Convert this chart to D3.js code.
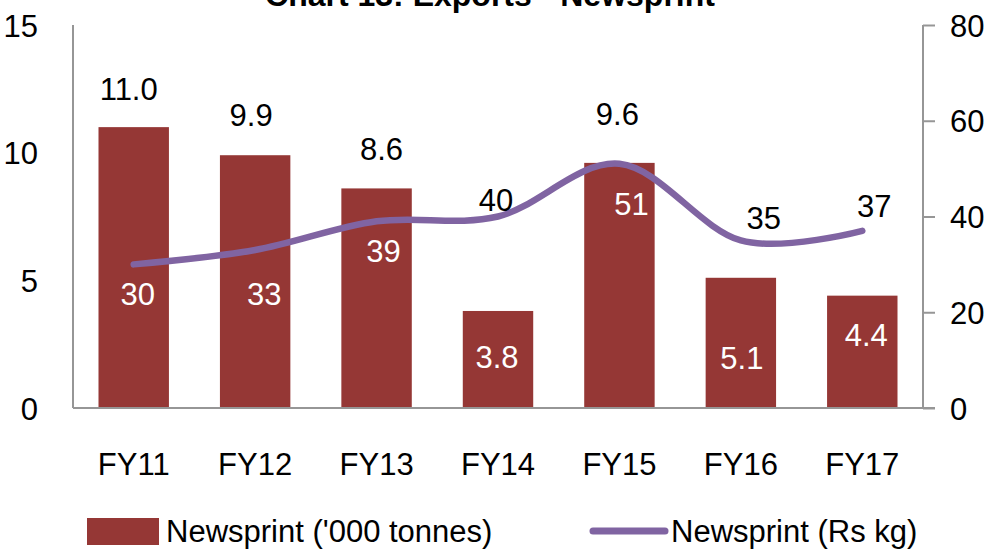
<!DOCTYPE html>
<html>
<head>
<meta charset="utf-8">
<script src="https://cdn.jsdelivr.net/npm/d3@7"></script>
<style>
  body { margin: 0; background: #fff; }
  svg text { font-family: "Liberation Sans", Arial, sans-serif; }
</style>
</head>
<body>
<div class="chart"></div>
<script>
// chart data
var years = ['FY11', 'FY12', 'FY13', 'FY14', 'FY15', 'FY16', 'FY17'];
var tonnes = [11.0, 9.9, 8.6, 3.8, 9.6, 5.1, 4.4];
var price = [30, 33, 39, 40, 51, 35, 37];
var leftTicks = [0, 5, 10, 15];
var rightTicks = [0, 20, 40, 60, 80];

// hand placed data labels (dx from centre, dy of baseline from bar top / point)
var barLabelDx = [-5, -4, 5, -1, -2, 1, 4];
var barLabelDy = [-27, -29, -28, 57, -38, 91, 50];
var barLabelInside = [false, false, false, true, false, true, true];
var lineLabelDx = [4, 9, 7, -2, 12, 23, 12];
var lineLabelDy = [41, 55, 41, -6, 51, -11, -14];
var lineLabelInside = [true, true, true, false, true, false, false];

(function() {
    var
        width = 1001,
        height = 550,
        plotLeft = 73,
        plotRight = 923,
        plotTop = 25,
        plotBottom = 408,
        barColor = '#953735',
        lineColor = '#8064a2',
        axisColor = '#969696';

    var svg = d3.select('.chart').append('svg')
        .attr('width', width)
        .attr('height', height);

    var x = d3.scaleBand().domain(years).range([plotLeft, plotRight]).paddingInner(0.42).paddingOuter(0.21);
    var yL = d3.scaleLinear().domain([0, 15]).range([plotBottom, plotTop]);
    var yR = d3.scaleLinear().domain([0, 80]).range([plotBottom, plotTop]);
    var cx = function(d) { return x(d) + x.bandwidth() / 2; };

    // title (cut off at the top like the source)
    svg.append('text')
        .attr('x', 490).attr('y', 6)
        .attr('text-anchor', 'middle')
        .attr('font-size', 32).attr('font-weight', 'bold')
        .text('Chart 13: Exports - Newsprint');

    // bars
    svg.selectAll('rect.bar')
        .data(tonnes)
        .enter()
        .append('rect')
        .attr('class', 'bar')
        .attr('x', function(d, i) { return x(years[i]); })
        .attr('width', x.bandwidth())
        .attr('y', function(d) { return yL(d); })
        .attr('height', function(d) { return plotBottom - yL(d); })
        .attr('fill', barColor);

    // axes
    var leftAxis = svg.append('g')
        .attr('transform', 'translate(' + plotLeft + ',0)')
        .call(d3.axisLeft(yL).tickValues(leftTicks).tickSize(0).tickPadding(35));
    var rightAxis = svg.append('g')
        .attr('transform', 'translate(' + plotRight + ',0)')
        .call(d3.axisRight(yR).tickValues(rightTicks).tickSize(12).tickPadding(15));
    var bottomAxis = svg.append('g')
        .attr('transform', 'translate(0,' + plotBottom + ')')
        .call(d3.axisBottom(x).tickSize(0).tickPadding(67));

    [leftAxis, rightAxis, bottomAxis].forEach(function(g) {
        g.select('.domain').attr('stroke', axisColor).attr('stroke-width', 2);
        g.selectAll('line').attr('stroke', axisColor).attr('stroke-width', 2);
        g.selectAll('text').attr('font-size', 31).attr('fill', '#000')
            .attr('font-family', '"Liberation Sans", Arial, sans-serif');
    });
    leftAxis.selectAll('text').attr('dy', '0.36em');
    rightAxis.selectAll('text').attr('dy', '0.36em');
    bottomAxis.selectAll('text').attr('dy', 0);
    bottomAxis.select('.domain').attr('d', 'M' + plotLeft + ',0H' + (plotRight + 12));
    leftAxis.select('.domain').attr('d', 'M0,' + plotTop + 'V' + plotBottom);
    rightAxis.select('.domain').attr('d', 'M0,' + yR(80) + 'V' + plotBottom);

    // price line
    var line = d3.line()
        .x(function(d, i) { return cx(years[i]); })
        .y(function(d) { return yR(d); })
        .curve(d3.curveCardinal.tension(0));

    svg.append('path')
        .datum(price)
        .attr('d', line)
        .attr('fill', 'none')
        .attr('stroke', lineColor)
        .attr('stroke-width', 6.5)
        .attr('stroke-linecap', 'round');

    // data labels
    svg.selectAll('text.barlabel')
        .data(tonnes)
        .enter()
        .append('text')
        .attr('class', 'barlabel')
        .attr('x', function(d, i) { return cx(years[i]) + barLabelDx[i]; })
        .attr('y', function(d, i) { return yL(d) + barLabelDy[i]; })
        .attr('text-anchor', 'middle')
        .attr('font-size', 31)
        .attr('fill', function(d, i) { return barLabelInside[i] ? '#fff' : '#000'; })
        .text(function(d) { return d3.format('.1f')(d); });

    svg.selectAll('text.linelabel')
        .data(price)
        .enter()
        .append('text')
        .attr('class', 'linelabel')
        .attr('x', function(d, i) { return cx(years[i]) + lineLabelDx[i]; })
        .attr('y', function(d, i) { return yR(d) + lineLabelDy[i]; })
        .attr('text-anchor', 'middle')
        .attr('font-size', 31)
        .attr('fill', function(d, i) { return lineLabelInside[i] ? '#fff' : '#000'; })
        .text(function(d) { return d; });

    // legend
    var legend = svg.append('g');
    legend.append('rect')
        .attr('x', 87).attr('y', 518).attr('width', 72).attr('height', 27)
        .attr('fill', barColor);
    legend.append('text')
        .attr('x', 166).attr('y', 542).attr('font-size', 31)
        .text("Newsprint ('000 tonnes)");
    legend.append('line')
        .attr('x1', 593).attr('x2', 665).attr('y1', 531).attr('y2', 531)
        .attr('stroke', lineColor).attr('stroke-width', 7).attr('stroke-linecap', 'round');
    legend.append('text')
        .attr('x', 671).attr('y', 542).attr('font-size', 31)
        .text('Newsprint (Rs kg)');
})();
</script>
</body>
</html>
